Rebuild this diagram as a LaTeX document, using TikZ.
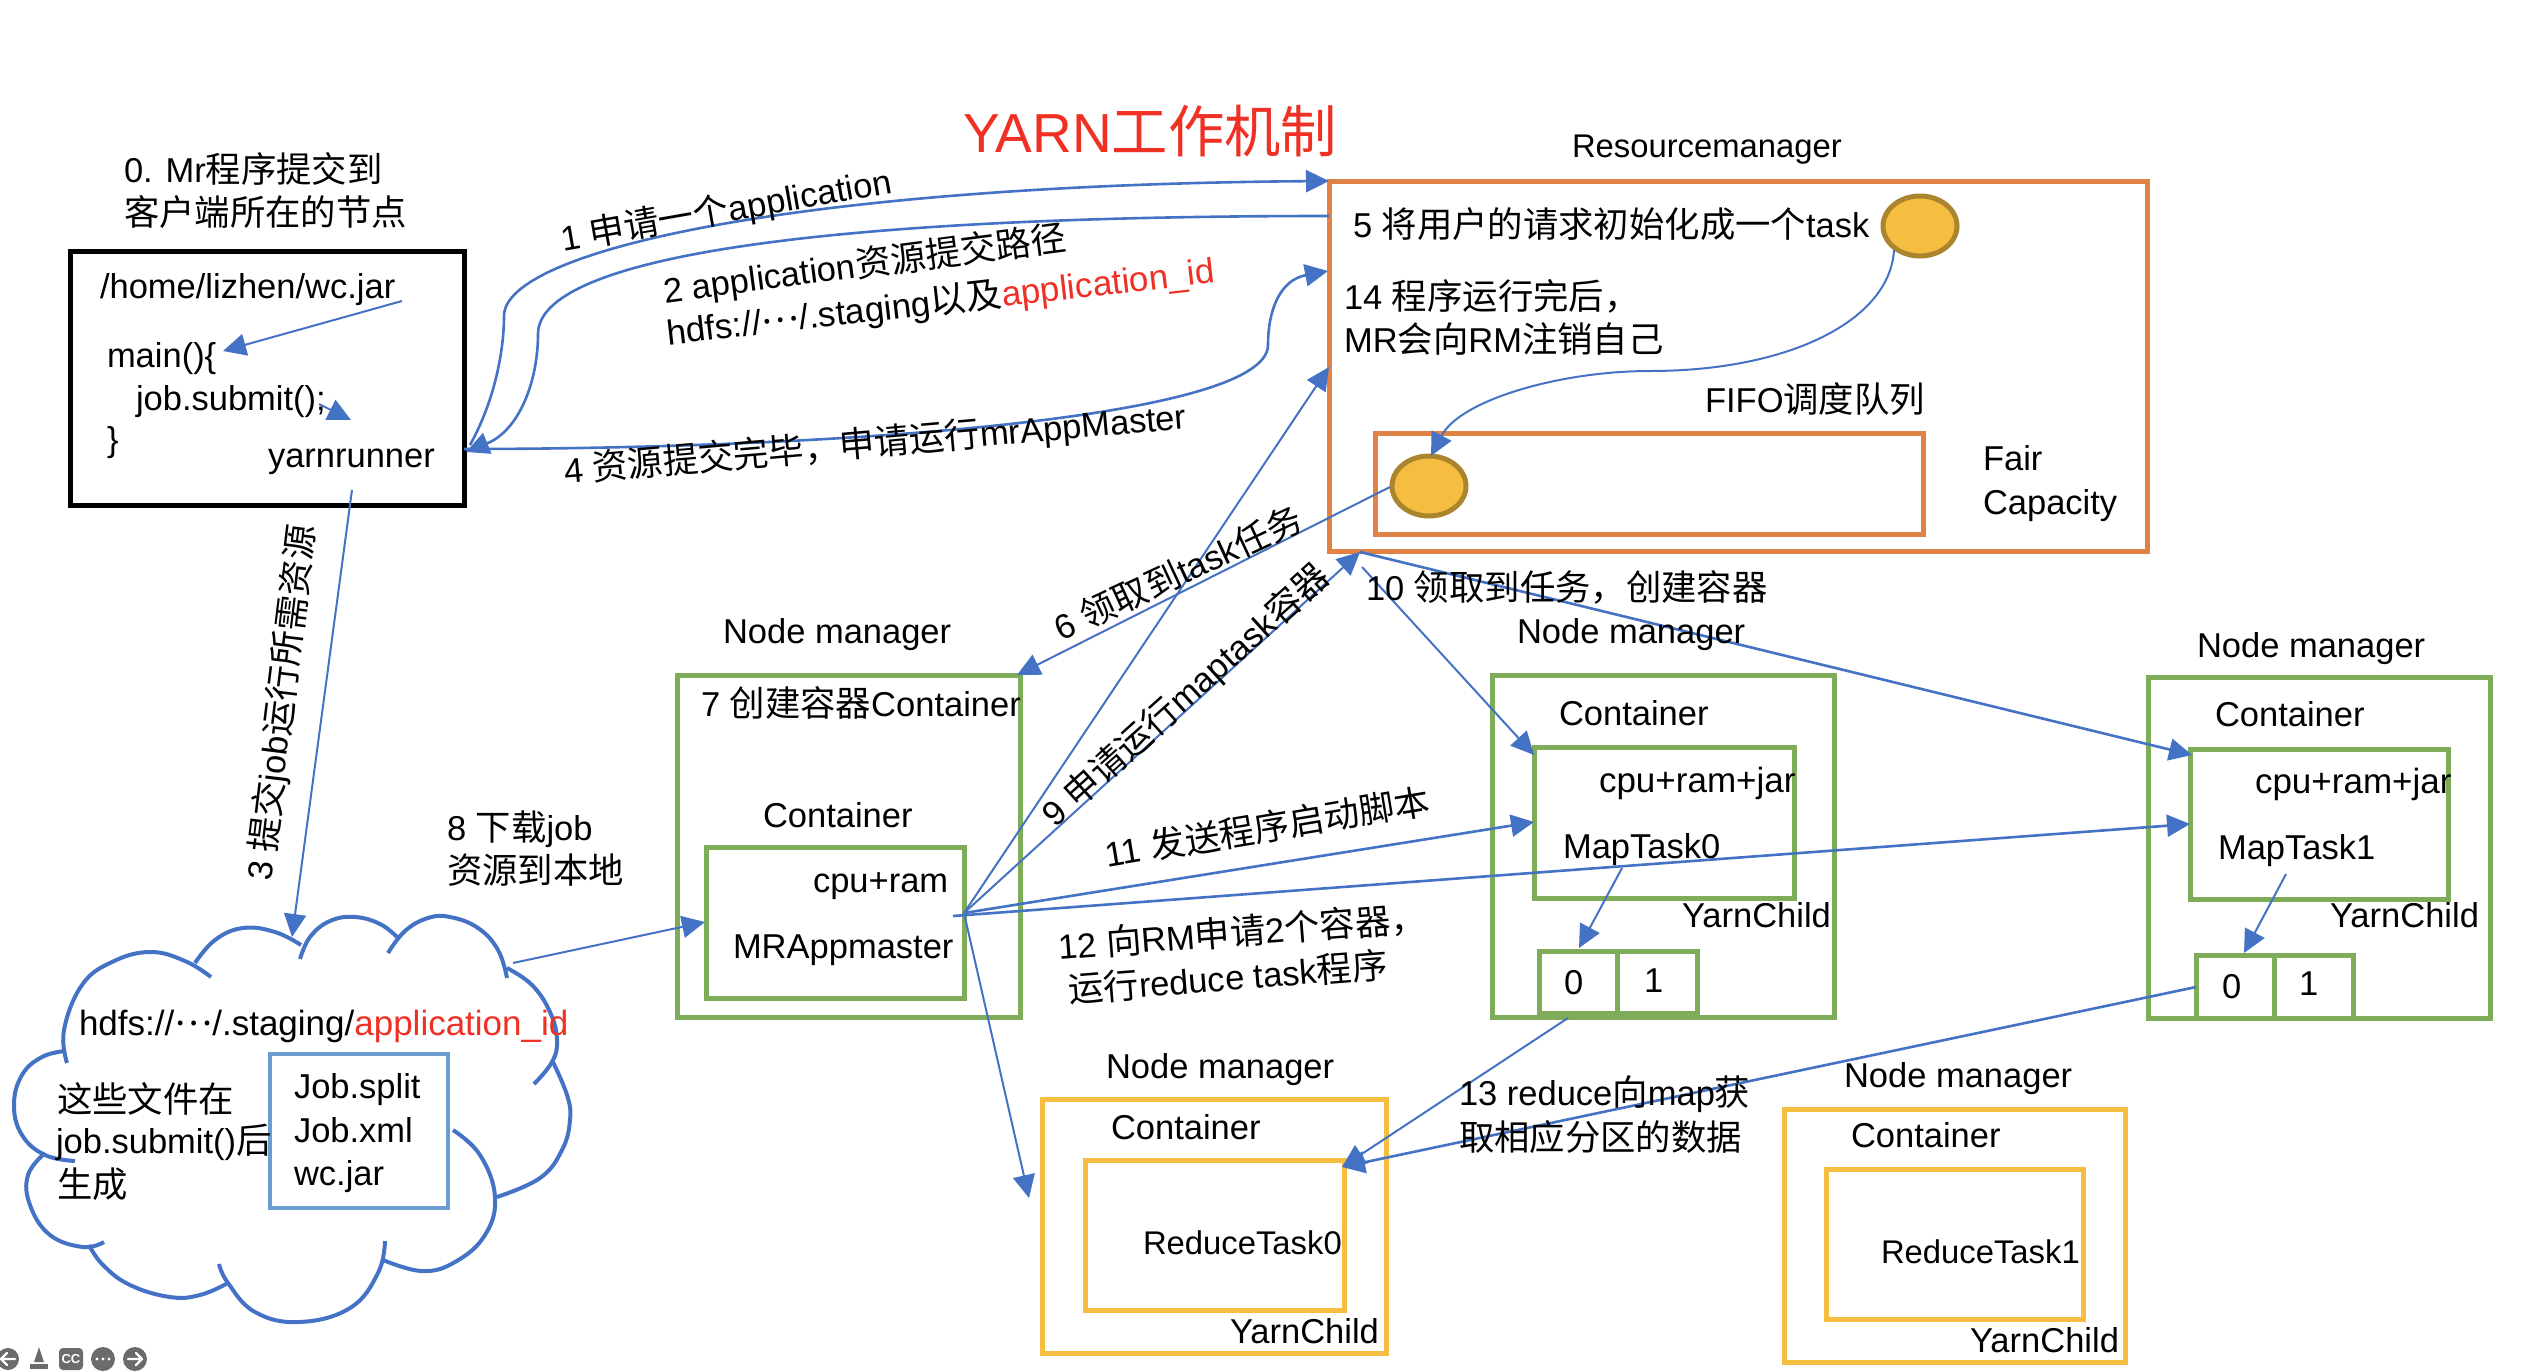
\documentclass[tikz,border=0pt]{standalone}
\usepackage{fontspec}
\usetikzlibrary{arrows.meta,shapes.geometric}
\setmainfont{Liberation Sans}
\newfontfamily\cjkf[Scale=1.025]{Noto Sans CJK SC}
\newcommand{\zh}[1]{{\cjkf #1}}
\newcommand{\midots}{\raisebox{.27em}{\zh{…}}}
\definecolor{linkblue}{HTML}{4472C4}
\definecolor{rmorange}{HTML}{DF8244}
\definecolor{nmgreen}{HTML}{7FAC58}
\definecolor{rygold}{HTML}{F5BE41}
\definecolor{filebox}{HTML}{6A9BD1}
\definecolor{titlered}{HTML}{EE3124}
\definecolor{icongray}{HTML}{6B6B6B}
\tikzset{
  txt/.style={inner sep=0pt,outer sep=0pt,font=\fontsize{17.25}{21.5}\selectfont,text=black,anchor=base west},
  turned/.style={txt,anchor=center},
  snug/.style={font=\fontsize{16.4}{21}\selectfont},
  roomy/.style={font=\fontsize{17.5}{21.5}\selectfont},
  boxbase/.style={rectangle,inner sep=0pt,line width=2.5pt},
  blackbox/.style={boxbase,draw=black},
  rmbox/.style={boxbase,draw=rmorange},
  nmbox/.style={boxbase,draw=nmgreen},
  rybox/.style={boxbase,draw=rygold},
  filesbox/.style={boxbase,draw=filebox,line width=2pt},
  taskdot/.style={ellipse,draw=#1,fill=rygold,line width=2.5pt,minimum width=37pt,minimum height=30pt,inner sep=0pt},
  link/.style={draw=linkblue,line width=1pt,-{Triangle[length=11.5pt,width=11pt,fill=linkblue]}},
  boldlink/.style={link,line width=1.3pt},
  cloudline/.style={draw=linkblue,line width=2pt,line cap=butt},
  icon/.style={fill=icongray,draw=none},
  iconmark/.style={draw=white,line width=1.2pt,line cap=round,line join=round},
}
\newcommand{\boxn}[6]{%
  \pgfmathsetmacro{\bw}{(#5-#3)*0.5}\pgfmathsetmacro{\bh}{(#6-#4)*0.5}%
  \pgfmathsetmacro{\bx}{(#3+#5)/2}\pgfmathsetmacro{\by}{(#4+#6)/2}%
  \node[#2,minimum width=\bw pt,minimum height=\bh pt] (#1) at (\bx,\by) {};}
\newcommand{\lbl}[4]{\node[txt] (#1) at (#2,#3) {#4};}
\begin{document}
\begin{tikzpicture}[x=0.5pt,y=-0.5pt]
\useasboundingbox (0,0) rectangle (2535,1370);
% boxes
\boxn{client}{blackbox}{70}{251}{464}{505}
\boxn{rm}{rmbox}{1329}{181}{2147}{551}
\boxn{fifo}{rmbox}{1375}{433}{1923}{534}
\boxn{nma}{nmbox}{677}{675}{1020}{1017}
\boxn{mra}{nmbox}{706}{847}{964}{998}
\boxn{nmb}{nmbox}{1492}{675}{1834}{1017}
\boxn{mapa}{nmbox}{1534}{747}{1794}{898}
\boxn{bka}{nmbox}{1539}{951}{1617}{1013}
\boxn{bkb}{nmbox}{1617}{951}{1697}{1013}
\boxn{nmc}{nmbox}{2148}{677}{2490}{1018}
\boxn{mapb}{nmbox}{2190}{749}{2448}{899}
\boxn{bkc}{nmbox}{2196}{955}{2274}{1018}
\boxn{bkd}{nmbox}{2274}{955}{2353}{1018}
\boxn{nmd}{rybox}{1042}{1099}{1386}{1353}
\boxn{rda}{rybox}{1085}{1160}{1344}{1310}
\boxn{nme}{rybox}{1784}{1109}{2125}{1362}
\boxn{rdb}{rybox}{1826}{1169}{2083}{1319}
\boxn{files}{filesbox}{270}{1054}{448}{1208}
\node[taskdot=rygold!70!black] (dota) at (1920,226) {};
\node[taskdot=rygold!70!black] (dotb) at (1429,486) {};
% cloud
\draw[cloudline] plot[smooth,tension=0.7] coordinates {(67,1063) (64,1030) (82,985) (112,962) (150,952) (185,961) (211,977)};
\draw[cloudline] plot[smooth,tension=0.7] coordinates {(195,963) (215,940) (243,928) (275,932) (301,945)};
\draw[cloudline] plot[smooth,tension=0.7] coordinates {(300,959) (310,937) (330,921) (355,917) (380,924) (397,937)};
\draw[cloudline] plot[smooth,tension=0.7] coordinates {(388,953) (405,931) (428,918) (450,917) (478,928) (498,950) (507,978)};
\draw[cloudline] plot[smooth,tension=0.7] coordinates {(507,968) (532,985) (550,1012) (557,1040) (552,1062) (534,1084)};
\draw[cloudline] plot[smooth,tension=0.7] coordinates {(552,1060) (567,1095) (570,1120) (562,1150) (540,1178) (497,1197)};
\draw[cloudline] plot[smooth,tension=0.7] coordinates {(453,1130) (480,1155) (495,1197) (485,1235) (455,1262) (422,1271) (383,1260)};
\draw[cloudline] plot[smooth,tension=0.7] coordinates {(385,1241) (378,1273) (350,1308) (299,1322) (255,1312) (228,1283) (219,1264)};
\draw[cloudline] plot[smooth,tension=0.7] coordinates {(228,1283) (200,1295) (170,1297) (130,1285) (103,1265) (89,1245)};
\draw[cloudline] plot[smooth,tension=0.7] coordinates {(104,1242) (83,1247) (50,1235) (30,1205) (28,1175) (45,1153)};
\draw[cloudline] plot[smooth,tension=0.7] coordinates {(75,1161) (45,1155) (22,1135) (14,1105) (22,1075) (42,1057) (65,1051)};
% connector ends
\coordinate (a1s) at (470,445);   \coordinate (a1m) at (504,316);  \coordinate (a1e) at (1329,181);
\coordinate (a2s) at (1329,216);  \coordinate (a2m) at (538,334);  \coordinate (a2e) at (466,452);
\coordinate (a4s) at (464,449);   \coordinate (a4m) at (1268,345); \coordinate (a4e) at (1328,271);
\coordinate (jar) at (402,301);   \coordinate (mainc) at (223,351);
\coordinate (subs) at (319,404);  \coordinate (sube) at (351,420);
\coordinate (yrn) at (352,490);   \coordinate (cldt) at (292,937);
\coordinate (cldr) at (513,963);  \coordinate (mrl) at (705,922);
\coordinate (mrs) at (964,913);   \coordinate (mrt) at (953,916);
\coordinate (six) at (1390,487);  \coordinate (sixe) at (1017,675);
\coordinate (rmleft) at (1329,367); \coordinate (rmbot) at (1360,552);
\coordinate (t10) at (1362,567);
\coordinate (mapl) at (1534,755); \coordinate (mapm) at (1534,822);
\coordinate (mapbl) at (2192,755); \coordinate (mapbm) at (2190,824);
\coordinate (rdn) at (1029,1198);
\coordinate (mta) at (1622,868);  \coordinate (bkat) at (1579,948);
\coordinate (mtb) at (2286,874);  \coordinate (bkct) at (2244,953);
\coordinate (bkas) at (1568,1018); \coordinate (bkcs) at (2196,987);
\coordinate (rdt) at (1342,1167);
\coordinate (dota5) at (1894,250); \coordinate (dotbt) at (1431,456);
% connectors
\draw[boldlink] (a1s) .. controls (495,400) and (504,350) .. (a1m) .. controls (504,250) and (800,185) .. (a1e);
\draw[boldlink] (a2s) .. controls (800,216) and (538,260) .. (a2m) .. controls (538,380) and (520,430) .. (a2e);
\draw[boldlink] (a4s) .. controls (820,449) and (1268,420) .. (a4m) .. controls (1268,310) and (1280,280) .. (a4e);
\draw[link] (jar) -- (mainc);
\draw[link] (subs) -- (sube);
\draw[link] (yrn) -- (cldt);
\draw[link] (cldr) -- (mrl);
\draw[link] (six) -- (sixe);
\draw[link] (mrs) -- (rmleft);
\draw[link] (mrs) -- (rmbot);
\draw[boldlink] (mrs) -- (mapm);
\draw[boldlink] (mrt) -- (mapbm);
\draw[link] (t10) -- (mapl);
\draw[boldlink] (rmbot) -- (mapbl);
\draw[link] (mrs) -- (rdn);
\draw[link] (mta) -- (bkat);
\draw[link] (mtb) -- (bkct);
\draw[link] (bkas) -- (rdt);
\draw[boldlink] (bkcs) -- (rdt);
\draw[link] (dota5) .. controls (1890,320) and (1790,371) .. (1650,371) .. controls (1560,371) and (1460,400) .. (dotbt);
% title
\node[txt,text=titlered,font=\fontsize{27.5}{32}\selectfont] (title) at (963,152) {YARN\zh{工作机制}};
% client
\lbl{t0a}{124}{182}{0. Mr\zh{程序提交到}}
\lbl{t0b}{124}{225}{\zh{客户端所在的节点}}
\lbl{tjar}{100}{298}{/home/lizhen/wc.jar}
\lbl{tmain}{107}{367}{main()\{}
\lbl{tsub}{136}{410}{job.submit();}
\lbl{tbr}{107}{451}{\}}
\lbl{tyr}{268}{467}{yarnrunner}
% rotated upper labels
\node[txt,rotate=10] (t1) at (563,251) {1 \zh{申请一个}application};
\node[txt,rotate=7.5] (t2a) at (665,303) {2 application\zh{资源提交路径}};
\node[txt,roomy,rotate=6.5] (t2b) at (668,345) {hdfs://\midots/.staging\zh{以及}\textcolor{titlered}{application\_id}};
\node[txt,rotate=5] (t4) at (565,483) {4 \zh{资源提交完毕，申请运行}mrAppMaster};
\node[turned,rotate=83] (t3) at (282,703) {3 \zh{提交}job\zh{运行所需资源}};
% RM
\node[txt,snug] (trm) at (1572,157) {Resourcemanager};
\lbl{t5}{1353}{237}{5 \zh{将用户的请求初始化成一个}task}
\lbl{t14a}{1344}{309}{14 \zh{程序运行完后，}}
\lbl{t14b}{1344}{352}{MR\zh{会向}RM\zh{注销自己}}
\lbl{tfifo}{1705}{412}{FIFO\zh{调度队列}}
\lbl{tfair}{1983}{470}{Fair}
\lbl{tcap}{1983}{514}{Capacity}
\lbl{t10}{1366}{600}{10 \zh{领取到任务，创建容器}}
% node manager 1
\lbl{nm1}{723}{643}{Node manager}
\lbl{t7}{701}{716}{7 \zh{创建容器}Container}
\lbl{cont1}{763}{827}{Container}
\lbl{cpu1}{813}{892}{cpu+ram}
\lbl{mrapp}{733}{958}{MRAppmaster}
\lbl{t8a}{447}{840}{8 \zh{下载}job}
\lbl{t8b}{447}{883}{\zh{资源到本地}}
\node[turned,rotate=25] (t6) at (1178,573) {6 \zh{领取到}task\zh{任务}};
\node[turned,rotate=42] (t9) at (1186,696) {9 \zh{申请运行}maptask\zh{容器}};
\node[turned,rotate=9.5] (t11) at (1267,827) {11 \zh{发送程序启动脚本}};
\node[turned,rotate=4.5] (t12a) at (1242,932) {12 \zh{向}RM\zh{申请}2\zh{个容器，}};
\node[turned,rotate=4.5] (t12b) at (1228,977) {\zh{运行}reduce task\zh{程序}};
% node manager 2
\lbl{nm2}{1517}{643}{Node manager}
\lbl{cont2}{1559}{725}{Container}
\node[txt,roomy] (cpu2) at (1599,792) {cpu+ram+jar};
\lbl{mt0}{1563}{858}{MapTask0}
\lbl{yc1}{1682}{927}{YarnChild}
\lbl{z0}{1564}{994}{0}
\lbl{z1}{1644}{992}{1}
% node manager 3
\lbl{nm3}{2197}{657}{Node manager}
\lbl{cont3}{2215}{726}{Container}
\node[txt,roomy] (cpu3) at (2255,793) {cpu+ram+jar};
\lbl{mt1}{2218}{859}{MapTask1}
\lbl{yc2}{2330}{927}{YarnChild}
\lbl{z2}{2222}{998}{0}
\lbl{z3}{2299}{995}{1}
% reducers
\lbl{t13a}{1459}{1105}{13 reduce\zh{向}map\zh{获}}
\lbl{t13b}{1459}{1150}{\zh{取相应分区的数据}}
\lbl{nm4}{1106}{1078}{Node manager}
\lbl{cont4}{1111}{1139}{Container}
\node[txt,snug] (rt0) at (1143,1254) {ReduceTask0};
\lbl{yc3}{1230}{1343}{YarnChild}
\lbl{nm5}{1844}{1087}{Node manager}
\lbl{cont5}{1851}{1147}{Container}
\node[txt,snug] (rt1) at (1881,1263) {ReduceTask1};
\lbl{yc4}{1970}{1352}{YarnChild}
% cloud text
\node[txt,roomy] (thdfs) at (79,1035) {hdfs://\midots/.staging/\textcolor{titlered}{application\_id}};
\lbl{tfa}{57}{1112}{\zh{这些文件在}}
\lbl{tfb}{56}{1153}{job.submit()\zh{后}}
\lbl{tfc}{57}{1197}{\zh{生成}}
\lbl{js}{294}{1098}{Job.split}
\lbl{jx}{294}{1142}{Job.xml}
\lbl{wc}{294}{1185}{wc.jar}
% player controls
\fill[icon] (8,1359) circle[radius=11];
\draw[iconmark] (15,1359) -- (2,1359) (7,1353) -- (1,1359) -- (7,1365);
\fill[icon] (39,1347) -- (44,1362) -- (34,1362) -- cycle;
\fill[icon] (30,1364) rectangle (48,1369);
\fill[icon,rounded corners=2] (59,1348) rectangle (83,1370);
\node[inner sep=0pt,text=white,font=\fontsize{6.5}{7}\selectfont\bfseries] (cc) at (71,1359) {CC};
\fill[icon] (103,1359) circle[radius=12];
\fill[white] (97,1359) circle[radius=1.6] (103,1359) circle[radius=1.6] (109,1359) circle[radius=1.6];
\fill[icon] (135,1359) circle[radius=12];
\draw[iconmark] (128,1359) -- (142,1359) (136,1353) -- (142,1359) -- (136,1365);
\end{tikzpicture}
\end{document}
